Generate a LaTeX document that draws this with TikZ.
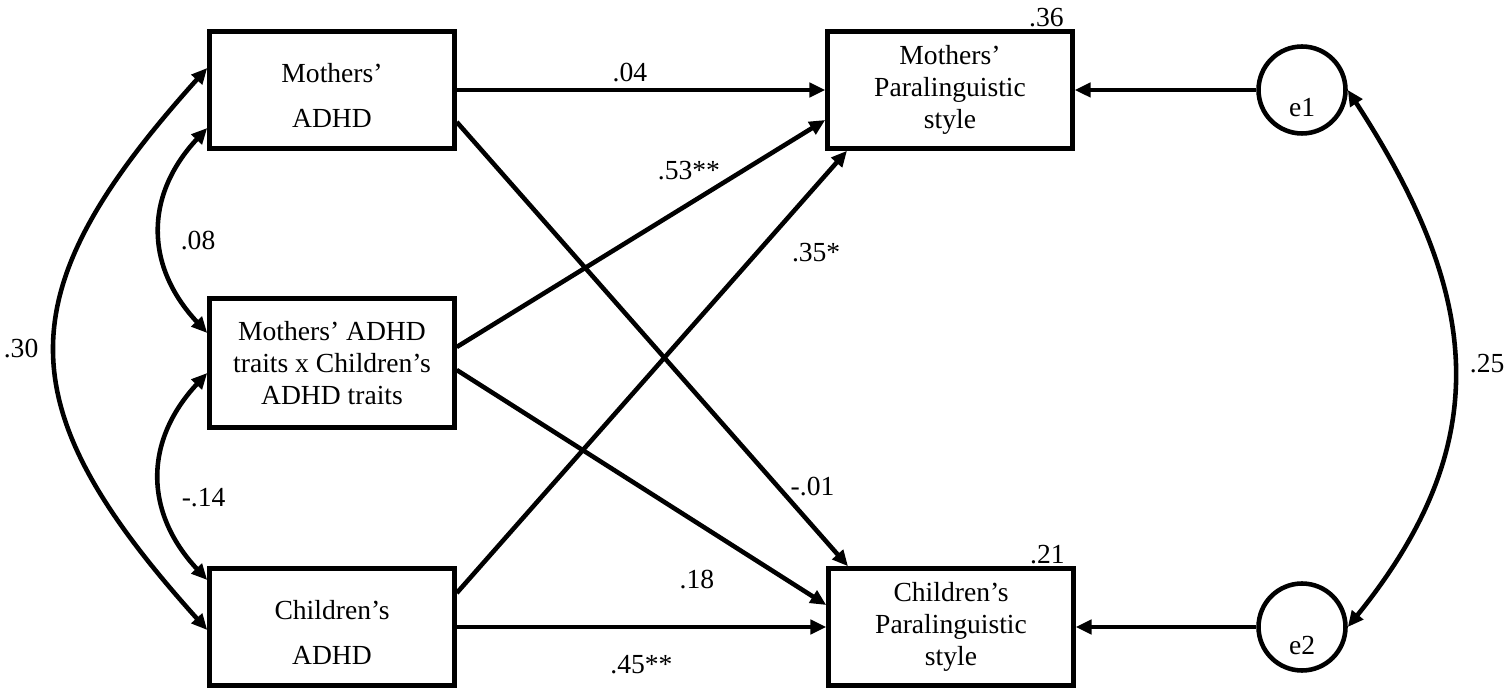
\documentclass[tikz,border=0pt]{standalone}
\usepackage{fontspec}
\setmainfont{Liberation Serif}
\usepackage{tikz}
\usetikzlibrary{arrows.meta,calc}

\begin{document}
\begin{tikzpicture}[x=0.02cm, y=0.02cm, font=\fontsize{15.7}{18}\selectfont]
\useasboundingbox (0,0) rectangle (1510,693);
\begin{scope}[every node/.style={rectangle,draw,line width=2.6pt,align=center,inner sep=0pt,minimum width=4.9cm,minimum height=2.34cm}]
    \node (mADHD) at (332,603) {\rule{0pt}{17pt}Mothers’\\[8pt]ADHD};
    \node[minimum height=2.58cm] (inter) at (332,330) {Mothers’ ADHD\\traits x Children’s\\ADHD traits};
    \node (cADHD) at (332,66) {\rule{0pt}{17pt}Children’s\\[8pt]ADHD};
    \node (mPara) at (950,603) {Mothers’\\Paralinguistic\\style};
    \node (cPara) at (951,66) {Children’s\\Paralinguistic\\style};
\end{scope}
\begin{scope}[every node/.style={circle,draw,line width=2.6pt,minimum size=1.74cm,inner sep=0pt}]
    \node (e1) at (1302,603) {};
    \node (e2) at (1302,66) {};
\end{scope}
\begin{scope}[>={Triangle[length=9pt,width=8pt]}, every edge/.style={draw,line width=2.6pt}]
    \node (e1txt) at ($(e1)+(0,-18)$) {e1};
    \node (e2txt) at ($(e2)+(0,-18)$) {e2};
    \node[anchor=south east,inner sep=1pt,xshift=-0.18cm] (rsqM) at (mPara.north east) {.36};
    \node[anchor=south east,inner sep=1pt,xshift=-0.18cm] (rsqC) at (cPara.north east) {.21};

    \path [->] (mADHD) edge node[pos=0.47,above] {.04} (mPara);
    \path [->] ($(mADHD.east)+(0,-32)$) edge node[pos=0.82,right=0.1cm] {-.01} ($(cPara.north)+(-103,0)$);
    \path [->] ($(inter.east)+(0,16)$) edge node[pos=0.63,above=0.32cm] {.53**} ($(mPara.west)+(0,-30)$);
    \path [->] ($(inter.east)+(0,-7)$) edge node[pos=0.65,below=0.78cm] {.18} ($(cPara.west)+(0,22)$);
    \path [->] ($(cADHD.east)+(0,34)$) edge node[pos=0.81,below right,xshift=0.22cm] {.35*} ($(mPara.south)+(-103,0)$);
    \path [->] (cADHD) edge node[below=0.4cm] {.45**} (cPara);
    \path [->] (e1) edge (mPara);
    \path [->] (e2) edge (cPara);

    \path [<->] ($(mADHD.west)+(0,22)$) edge[out=228,in=132,looseness=1.38] node[left=0.18cm] {.30} ($(cADHD.west)+(0,-3)$);
    \path [<->] ($(mADHD.west)+(0,-38)$) edge[out=227,in=133,looseness=1.15] node[pos=0.55,right=0.24cm] {.08} ($(inter.west)+(0,30)$);
    \path [<->] ($(inter.west)+(0,-10)$) edge[out=227,in=133,looseness=1.15] node[pos=0.6,right=0.24cm] {-.14} ($(cADHD.west)+(0,47)$);
    \path [<->] (e1.east) edge[out=-57,in=51,looseness=1.15] node[right=0.16cm] {.25} (e2.east);
\end{scope}
\end{tikzpicture}
\end{document}
